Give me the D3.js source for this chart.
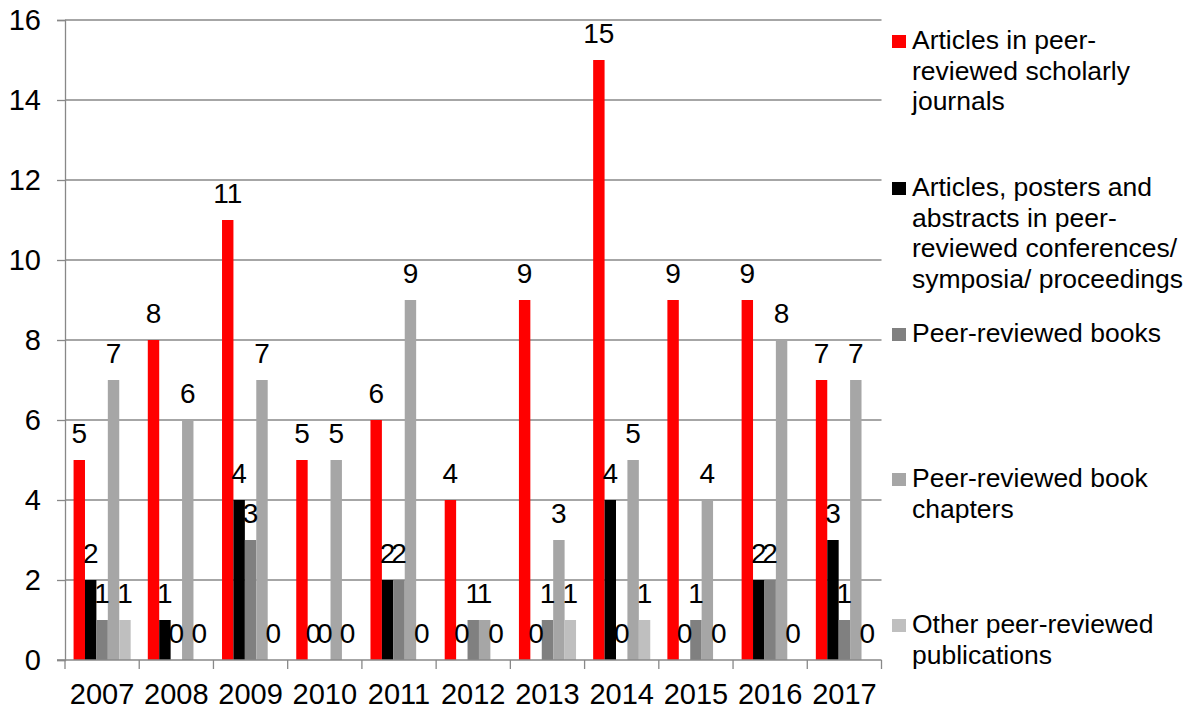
<!DOCTYPE html>
<html>
<head>
<meta charset="utf-8">
<script src="https://cdn.jsdelivr.net/npm/d3@7"></script>
<style>
  html, body { margin: 0; padding: 0; background: #fff; }
  svg { display: block; font-family: "Liberation Sans", Arial, sans-serif; }
</style>
</head>
<body>
<svg id="chart" width="1193" height="709"></svg>
<script>
const years = ["2007","2008","2009","2010","2011","2012","2013","2014","2015","2016","2017"];
const seriesNames = [
  "Articles in peer-reviewed scholarly journals",
  "Articles, posters and abstracts in peer-reviewed conferences/ symposia/ proceedings",
  "Peer-reviewed books",
  "Peer-reviewed book chapters",
  "Other peer-reviewed publications"
];
const legendLines = [
  ["Articles in peer-", "reviewed scholarly", "journals"],
  ["Articles, posters and", "abstracts in peer-", "reviewed conferences/", "symposia/ proceedings"],
  ["Peer-reviewed books"],
  ["Peer-reviewed book", "chapters"],
  ["Other peer-reviewed", "publications"]
];
const journals    = [5, 8, 11, 5, 6, 4, 9, 15, 9, 9, 7];
const conferences = [2, 1, 4, 0, 2, 0, 0, 4, 0, 2, 3];
const books       = [1, 0, 3, 0, 2, 1, 1, 0, 1, 2, 1];
const chapters    = [7, 6, 7, 5, 9, 1, 3, 5, 4, 8, 7];
const other       = [1, 0, 0, 0, 0, 0, 1, 1, 0, 0, 0];
const yTicks = [0, 2, 4, 6, 8, 10, 12, 14, 16];

const seriesValues = [journals, conferences, books, chapters, other];
const colors = ["#ff0000", "#000000", "#808080", "#a6a6a6", "#bfbfbf"];

(function () {
const svg = d3.select("#chart");
const mLeft = 65, mRight = 881.5, mTop = 20, mBottom = 660;
const gridColor = "#888888";

const x0 = d3.scaleBand().domain(years).range([mLeft, mRight]).paddingInner(0).paddingOuter(0);
const x1 = d3.scaleBand().domain(d3.range(seriesNames.length)).range([0, x0.bandwidth()])
  .paddingInner(0).paddingOuter(0.75);
const y = d3.scaleLinear().domain([0, 16]).range([mBottom, mTop]);

// gridlines
svg.append("g").selectAll("line").data(yTicks.filter(d => d > 0)).join("line")
  .attr("x1", mLeft).attr("x2", mRight)
  .attr("y1", d => y(d)).attr("y2", d => y(d))
  .attr("stroke", gridColor).attr("stroke-width", 1.3);

// y axis
const yAxis = svg.append("g").attr("transform", `translate(${mLeft},0)`)
  .call(d3.axisLeft(y).tickValues(yTicks).tickSize(8).tickPadding(16).tickFormat(d3.format("d")));
yAxis.select(".domain").attr("stroke", gridColor).attr("stroke-width", 1.3);
yAxis.selectAll(".tick line").attr("stroke", gridColor).attr("stroke-width", 1.3);
yAxis.selectAll(".tick text").attr("fill", "#000").style("font-size", "29px")
  .style("font-family", "Liberation Sans, Arial, sans-serif");

// bars
const groups = svg.append("g").selectAll("g").data(years).join("g")
  .attr("transform", d => `translate(${x0(d)},0)`);
groups.selectAll("rect").data((d, i) => seriesValues.map((s, k) => ({k, v: s[i]}))).join("rect")
  .attr("x", d => x1(d.k))
  .attr("width", x1.bandwidth())
  .attr("y", d => y(d.v))
  .attr("height", d => y(0) - y(d.v))
  .attr("fill", d => colors[d.k]);

// x axis
const xAxisG = svg.append("g").attr("transform", `translate(0,${mBottom})`);
xAxisG.append("line").attr("x1", mLeft - 8).attr("x2", mRight).attr("y1", 0).attr("y2", 0)
  .attr("stroke", gridColor).attr("stroke-width", 1.3);
const boundaries = years.map(d => x0(d)).concat([mRight]);
xAxisG.selectAll("line.t").data(boundaries).join("line").attr("class", "t")
  .attr("x1", d => d).attr("x2", d => d).attr("y1", 0).attr("y2", 9)
  .attr("stroke", gridColor).attr("stroke-width", 1.3);
xAxisG.selectAll("text").data(years).join("text")
  .attr("x", d => x0(d) + x0.bandwidth() / 2)
  .attr("y", 44)
  .attr("text-anchor", "middle")
  .style("font-size", "29px")
  .text(d => d);

// data labels
groups.selectAll("text").data((d, i) => seriesValues.map((s, k) => ({k, v: s[i]}))).join("text")
  .attr("x", d => x1(d.k) + x1.bandwidth() / 2)
  .attr("y", d => y(d.v) - 17)
  .attr("text-anchor", "middle")
  .style("font-size", "28px")
  .text(d => d.v);

// legend
const legendFirstBaselines = [49, 196, 342, 487, 633];
const lineH = 30.5;
const leg = svg.append("g");
legendLines.forEach((lines, i) => {
  const g = leg.append("g");
  g.append("rect").attr("x", 892).attr("y", legendFirstBaselines[i] - 14)
    .attr("width", 14).attr("height", 13).attr("fill", colors[i]);
  g.selectAll("text").data(lines).join("text")
    .attr("x", 912).attr("y", (d, j) => legendFirstBaselines[i] + j * lineH)
    .style("font-size", "26.5px")
    .text(d => d);
});
})();
</script>
</body>
</html>
